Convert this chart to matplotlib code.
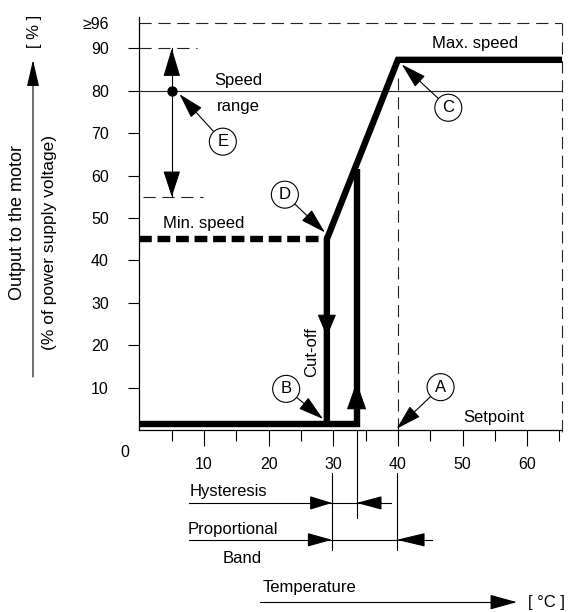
import numpy as np
import matplotlib.pyplot as plt

plt.rcParams['font.family'] = ['Liberation Sans', 'DejaVu Sans']
plt.rcParams['font.size'] = 12

# control curve: temperature [°C] vs output [% of supply voltage]
cutoff_t = 29.0
restart_t = 33.6
setpoint_t = 40.0
t_end = 65.4
off_out = 1.4
min_out = 45.0
restart_out = 61.5
max_out = 87.3
speed_ref = 80.0
top_out = 96.0

ramp_t = [cutoff_t, cutoff_t, setpoint_t, t_end]
ramp_out = [off_out, min_out, max_out, max_out]
low_t = [0, restart_t, restart_t]
low_out = [off_out, off_out, restart_out]
minspeed_t = [0, cutoff_t]
minspeed_out = [min_out, min_out]

# speed range bracket
range_t = 5.0
range_lo = 55.0
range_hi = 90.0

yticks = [10, 20, 30, 40, 50, 60, 70, 80, 90, 96]
ytick_labels = ['10', '20', '30', '40', '50', '60', '70', '80', '90', '≥96']
xticks = [10, 20, 30, 40, 50, 60]
xminor = [5, 15, 25, 35, 45, 55, 65]

# callouts: letter, circle centre, arrow target
callout_labels = ['A', 'B', 'C', 'D', 'E']
callout_pos = [(46.6, 10.1), (22.7, 9.7), (47.8, 76.0), (22.5, 55.5), (12.9, 68.0)]
callout_target = [(39.8, 0.3), (28.4, 2.6), (40.6, 86.2), (28.7, 46.6), (6.2, 79.2)]

# band marks below the axis
band_start = 29.8
hyst_end = restart_t
prop_end = 39.8

fig = plt.figure(figsize=(5.71, 6.12), dpi=100)
ax = fig.add_axes([0.2443, 0.2974, 0.740, 0.6755])
ax.set_xlim(0, t_end)
ax.set_ylim(0, 97.5)
for s in ['top', 'right']:
    ax.spines[s].set_visible(False)
for s in ['left', 'bottom']:
    ax.spines[s].set_linewidth(0.9)
ax.patch.set_alpha(0)

ax.set_yticks(yticks)
ax.set_yticklabels(ytick_labels)
ax.yaxis.get_major_ticks()[-1].tick1line.set_visible(False)
ax.tick_params(axis='y', direction='out', length=8, width=0.8, pad=14, labelsize=11.5)
ax.set_xticks(xticks)
ax.set_xticks(xminor, minor=True)
ax.tick_params(axis='x', which='major', direction='out', length=11.5, width=0.8, pad=8, labelsize=11.5)
ax.tick_params(axis='x', which='minor', direction='out', length=8, width=0.8)
ax.text(-2.2, -5.4, '0', ha='center', va='center', fontsize=11.5, clip_on=False)

K = 'black'
thick = 4.6
thin = 0.8
dash = (0, (11, 6))
lab_fs = 12

# reference lines
ax.plot([0, t_end], [speed_ref, speed_ref], color='#222222', lw=thin)
ax.plot([0, t_end], [top_out, top_out], color='#222222', lw=thin, linestyle=dash)
ax.plot([t_end - 0.05, t_end - 0.05], [top_out, -2], color='#222222', lw=thin, linestyle=dash, clip_on=False)
ax.plot([setpoint_t, setpoint_t], [0, 83], color='#222222', lw=thin, linestyle=dash)

# control curve
ax.plot(ramp_t, ramp_out, color=K, lw=thick, solid_capstyle='butt', solid_joinstyle='miter', clip_on=False)
ax.plot(low_t, low_out, color=K, lw=thick, solid_capstyle='butt', solid_joinstyle='miter', clip_on=False)
ax.plot(minspeed_t, minspeed_out, color=K, lw=thick, linestyle=(0, (2.0, 0.9)), dash_capstyle='butt')


def head(tip, base, length, half_width, lw=0.8):
    ax.annotate('', xy=tip, xytext=base, annotation_clip=False,
                arrowprops=dict(arrowstyle=f'-|>,head_length={length},head_width={half_width}',
                                mutation_scale=1, color=K, lw=lw, shrinkA=0, shrinkB=0))


# direction arrows on the curve
head((cutoff_t, 22.0), (cutoff_t, 26.7), 14.4, 6.0)
head((restart_t, 11.3), (restart_t, 5.4), 18.0, 6.4)

# speed range bracket
ax.plot([0, 8.9], [range_hi, range_hi], color='#222222', lw=thin, linestyle=(0, (11, 6)))
ax.plot([0.6, 9.8], [range_lo, range_lo], color='#222222', lw=thin, linestyle=(0, (11, 6)))
ax.plot([range_t, range_t], [range_lo, range_hi], color=K, lw=thin)
head((range_t, range_hi), (range_t, 84.0), 18.0, 5.4)
head((range_t, range_lo), (range_t, 60.5), 16.5, 5.4)
ax.plot([range_t], [speed_ref], marker='o', ms=6.5, color=K)

# text labels
ax.text(15.3, 81.4, 'Speed', ha='center', va='baseline', fontsize=lab_fs)
ax.text(15.3, 75.2, 'range', ha='center', va='baseline', fontsize=lab_fs)
ax.text(52.0, 90.0, 'Max. speed', ha='center', va='baseline', fontsize=lab_fs)
ax.text(10.0, 47.6, 'Min. speed', ha='center', va='baseline', fontsize=lab_fs)
ax.text(54.8, 1.8, 'Setpoint', ha='center', va='baseline', fontsize=lab_fs)
ax.text(26.7, 18.4, 'Cut-off', ha='center', va='center', rotation=90, fontsize=lab_fs)

# callouts
for lab, pos, tgt in zip(callout_labels, callout_pos, callout_target):
    ax.annotate(lab, xy=tgt, xytext=pos, ha='center', va='center', fontsize=12,
                annotation_clip=False,
                bbox=dict(boxstyle='circle,pad=0.36', fc='white', ec=K, lw=0.8),
                arrowprops=dict(arrowstyle='-|>,head_length=16,head_width=4.6',
                                mutation_scale=1, color=K, lw=0.8, shrinkA=0, shrinkB=0))

# hysteresis / proportional band below the axis
hy = -17.2
py = -25.9
ax.text(7.7, -15.6, 'Hysteresis', ha='left', va='baseline', fontsize=lab_fs, clip_on=False)
ax.plot([7.7, 38.9], [hy, hy], color=K, lw=thin, clip_on=False)
head((band_start, hy), (26.7, hy), 14.0, 4.3)
head((hyst_end, hy), (37.4, hy), 16.0, 4.3)
ax.text(7.5, -24.5, 'Proportional', ha='left', va='baseline', fontsize=lab_fs, clip_on=False)
ax.plot([7.7, 45.3], [py, py], color=K, lw=thin, clip_on=False)
head((band_start, py), (26.5, py), 15.5, 4.3)
head((prop_end, py), (43.8, py), 18.0, 4.3)
ax.text(12.8, -31.4, 'Band', ha='left', va='baseline', fontsize=lab_fs, clip_on=False)
ax.plot([band_start, band_start], [-10.1, -28.3], color=K, lw=thin, clip_on=False)
ax.plot([prop_end, prop_end], [-10.1, -28.3], color=K, lw=thin, clip_on=False)
ax.plot([hyst_end, hyst_end], [0, -20.8], color=K, lw=thin, clip_on=False)

# temperature arrow
ax.text(19.0, -38.2, 'Temperature', ha='left', va='baseline', fontsize=lab_fs, clip_on=False)
ax.plot([18.7, 55.0], [-40.6, -40.6], color=K, lw=thin, clip_on=False)
head((58.4, -40.6), (54.7, -40.6), 17.0, 4.7)
ax.text(60.1, -40.8, '[ °C ]', ha='left', va='center', fontsize=12, clip_on=False)

# y label with arrow (figure coordinates)
W, H = 571.0, 612.0
fig.text(18 / W, 1 - 223 / H, 'Output to the motor', rotation=90, ha='center', va='center', fontsize=13)
fig.text(50 / W, 1 - 243 / H, '(% of power supply voltage)', rotation=90, ha='center', va='center', fontsize=12.5)
fig.text(35 / W, 1 - 31 / H, '[ % ]', rotation=90, ha='center', va='center', fontsize=12)
ax.annotate('', xy=(33 / W, 1 - 60 / H), xytext=(33 / W, 1 - 377 / H),
            xycoords='figure fraction', textcoords='figure fraction',
            arrowprops=dict(arrowstyle='-|>,head_length=16.5,head_width=3.8',
                            mutation_scale=1, color=K, lw=0.8, shrinkA=0, shrinkB=0))

fig.savefig('out.png', dpi=100)
